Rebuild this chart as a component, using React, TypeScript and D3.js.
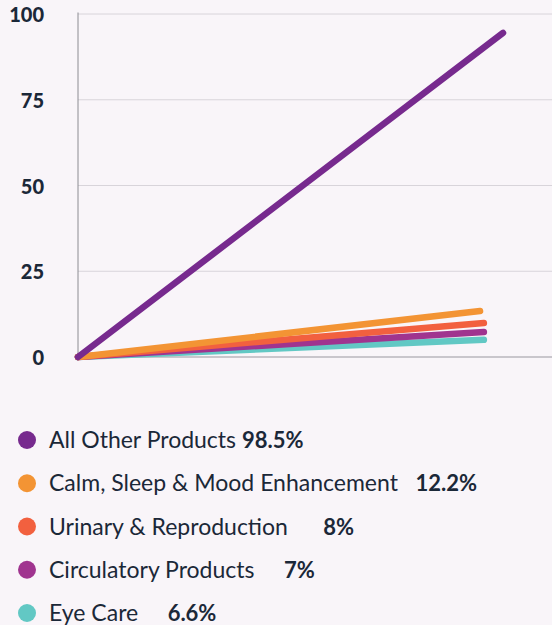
import React from "react";
import * as d3 from "d3";

const categories = [
  "All Other Products",
  "Calm, Sleep & Mood Enhancement",
  "Urinary & Reproduction",
  "Circulatory Products",
  "Eye Care",
];
const labelPadding = [" ", "   ", "      ", "     ", "     "];
const shares = ["98.5%", "12.2%", "8%", "7%", "6.6%"];
const startValues = [0, 0, 0, 0, 0];
const endValues = [94.5, 13.4, 9.9, 7.3, 5.0];
const endPositions = [1, 0.946, 0.955, 0.955, 0.955];
const colors = ["#772a8e", "#f39434", "#f2603f", "#a0348f", "#62c8c4"];
const yTicks = [0, 25, 50, 75, 100];

const W = 552;
const H = 625;
const BG = "#f9f5f9";
const TEXT = "#1b2838";

export default function App() {
  const x = d3.scaleLinear().domain([0, 1]).range([78, 503]);
  const y = d3.scaleLinear().domain([0, 100]).range([357, 14]);
  const line = d3
    .line<[number, number]>()
    .x((d) => x(d[0]))
    .y((d) => y(d[1]));

  const legendY = d3
    .scalePoint<number>()
    .domain(categories.map((_, i) => i))
    .range([440, 613]);

  const order = categories.map((_, i) => i).reverse();

  return (
    <svg
      width={W}
      height={H}
      style={{ position: "absolute", left: 0, top: 0, background: BG }}
    >
      <rect x={0} y={0} width={W} height={H} fill={BG} />
      {yTicks
        .filter((t) => t !== 0)
        .map((t) => (
          <line
            key={"g" + t}
            x1={x(0)}
            x2={W}
            y1={y(t)}
            y2={y(t)}
            stroke="#d8d4da"
            strokeWidth={1}
          />
        ))}
      <line x1={x(0)} x2={x(0)} y1={y(100) - 1.5} y2={y(0)} stroke="#8c8c92" strokeWidth={1} />
      <line x1={x(0)} x2={W} y1={y(0)} y2={y(0)} stroke="#b9b6bd" strokeWidth={1.5} />
      {yTicks.map((t) => (
        <text
          key={"t" + t}
          x={44}
          y={y(t) + 8}
          textAnchor="end"
          fontFamily="Lato, 'Open Sans', sans-serif"
          fontWeight={900}
          fontSize={20}
          fill={TEXT}
        >
          {t}
        </text>
      ))}
      {order.map((i) => (
        <path
          key={"l" + i}
          d={line([
            [0, startValues[i]],
            [endPositions[i], endValues[i]],
          ]) || ""}
          fill="none"
          stroke={colors[i]}
          strokeWidth={6.5}
          strokeLinecap="round"
        />
      ))}
      {categories.map((c, i) => (
        <g key={"lg" + i}>
          <circle cx={27} cy={legendY(i)} r={9} fill={colors[i]} />
          <text
            x={49}
            y={(legendY(i) || 0) + 8}
            fontFamily="Lato, 'Open Sans', sans-serif"
            fontSize={23}
            fill={TEXT}
            style={{ whiteSpace: "pre" }}
          >
            {c + labelPadding[i]}
            <tspan fontWeight={700} fontSize={22}>{shares[i]}</tspan>
          </text>
        </g>
      ))}
    </svg>
  );
}
